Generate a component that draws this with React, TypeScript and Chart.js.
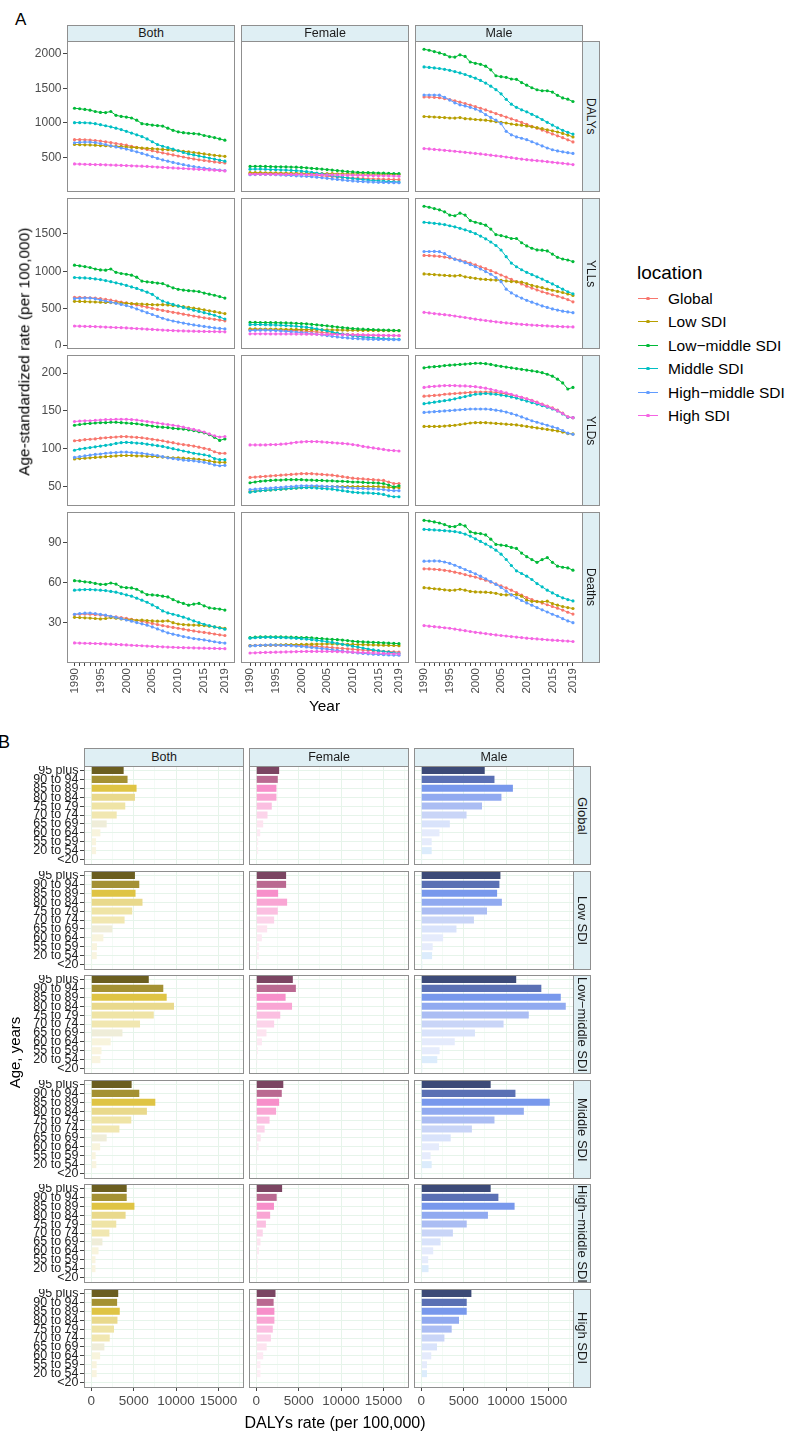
import React, { useEffect, useRef } from 'react';
import { Chart, registerables } from 'chart.js';

Chart.register(...registerables);

const FONT = "'Liberation Sans', Arial, Helvetica, sans-serif";
const NARROW = "'Liberation Sans Narrow', 'Liberation Sans', Arial, sans-serif";

// ---------------- Panel A data ----------------
const YEARS = [1990, 1991, 1992, 1993, 1994, 1995, 1996, 1997, 1998, 1999, 2000, 2001, 2002, 2003, 2004, 2005, 2006, 2007, 2008, 2009, 2010, 2011, 2012, 2013, 2014, 2015, 2016, 2017, 2018, 2019];
const YEAR_LABELS = [1990, 1995, 2000, 2005, 2010, 2015, 2019];
const LOCATIONS = ['Global', 'Low SDI', 'Low\u2212middle SDI', 'Middle SDI', 'High\u2212middle SDI', 'High SDI'];
const LOCATION_COLORS = ['#F8766D', '#B79F00', '#00BA38', '#00BFC4', '#619CFF', '#F564E3'];
const SEXES = ['Both', 'Female', 'Male'];
const MEASURES = ['DALYs', 'YLLs', 'YLDs', 'Deaths'];
const DALYS_TICKS = [500, 1000, 1500, 2000];
const YLLS_TICKS = [0, 500, 1000, 1500];
const YLDS_TICKS = [50, 100, 150, 200];
const DEATHS_TICKS = [30, 60, 90];

// order of series in each panel: Global, Low SDI, Low-middle, Middle, High-middle, High
const DALYS_BOTH = [
  [760, 760, 758, 755, 748, 740, 730, 718, 705, 692, 680, 665, 650, 635, 618, 600, 585, 570, 555, 540, 525, 510, 495, 482, 470, 460, 450, 440, 432, 425],
  [690, 688, 686, 684, 680, 675, 672, 668, 665, 660, 655, 650, 645, 640, 636, 630, 625, 620, 615, 608, 600, 592, 585, 575, 565, 555, 545, 535, 527, 520],
  [1212, 1205, 1195, 1185, 1165, 1152, 1150, 1165, 1110, 1095, 1085, 1072, 1040, 990, 980, 970, 962, 955, 925, 895, 872, 860, 852, 848, 840, 820, 805, 790, 770, 752],
  [1005, 1005, 1003, 1000, 990, 975, 960, 945, 925, 905, 880, 855, 830, 805, 770, 730, 690, 665, 645, 625, 600, 575, 555, 540, 525, 510, 495, 480, 465, 450],
  [715, 722, 725, 725, 718, 705, 690, 672, 655, 640, 625, 605, 585, 562, 540, 515, 490, 468, 450, 432, 415, 400, 385, 372, 360, 350, 340, 330, 322, 315],
  [410, 408, 406, 404, 402, 400, 398, 395, 393, 390, 387, 384, 381, 378, 374, 370, 366, 362, 357, 353, 349, 345, 341, 337, 333, 329, 325, 320, 315, 310],
];
const DALYS_FEMALE = [
  [275, 276, 276, 275, 273, 272, 270, 268, 265, 262, 258, 254, 250, 245, 240, 234, 228, 222, 217, 212, 208, 204, 200, 197, 194, 192, 190, 188, 186, 184],
  [285, 285, 284, 283, 282, 281, 280, 279, 278, 277, 276, 275, 274, 273, 272, 271, 270, 269, 268, 267, 266, 266, 265, 265, 264, 264, 263, 263, 262, 262],
  [375, 376, 376, 374, 372, 370, 370, 368, 366, 364, 360, 355, 348, 342, 336, 330, 322, 315, 308, 300, 295, 290, 287, 285, 283, 280, 278, 275, 272, 270],
  [335, 336, 336, 334, 330, 328, 325, 322, 318, 313, 308, 300, 290, 280, 268, 255, 242, 230, 220, 210, 200, 192, 185, 178, 172, 167, 162, 158, 154, 150],
  [255, 258, 260, 260, 258, 255, 252, 248, 244, 240, 236, 232, 226, 220, 212, 204, 195, 187, 180, 172, 166, 160, 156, 152, 149, 146, 144, 142, 141, 140],
  [262, 262, 262, 262, 261, 261, 261, 260, 260, 259, 259, 258, 257, 256, 255, 254, 253, 252, 250, 249, 248, 246, 245, 243, 242, 240, 239, 238, 236, 235],
];
const DALYS_MALE = [
  [1375, 1373, 1370, 1363, 1352, 1338, 1320, 1300, 1280, 1258, 1235, 1212, 1188, 1162, 1136, 1110, 1085, 1060, 1035, 1008, 980, 952, 925, 898, 870, 843, 815, 788, 758, 728],
  [1093, 1090, 1086, 1082, 1078, 1072, 1070, 1078, 1062, 1058, 1050, 1045, 1040, 1030, 1018, 1010, 1000, 985, 975, 968, 958, 945, 932, 918, 902, 888, 870, 850, 826, 800],
  [2061, 2047, 2028, 2009, 1986, 1953, 1948, 1981, 1958, 1878, 1859, 1845, 1817, 1765, 1680, 1666, 1657, 1633, 1629, 1582, 1544, 1507, 1478, 1464, 1464, 1445, 1398, 1361, 1342, 1309],
  [1807, 1800, 1792, 1784, 1772, 1758, 1740, 1720, 1698, 1672, 1645, 1612, 1575, 1530, 1480, 1420, 1340, 1270, 1225, 1190, 1160, 1125, 1090, 1050, 1010, 970, 930, 895, 865, 840],
  [1403, 1403, 1403, 1400, 1370, 1330, 1290, 1262, 1245, 1225, 1200, 1170, 1120, 1080, 1040, 990, 880, 830, 800, 780, 760, 730, 700, 670, 640, 615, 598, 585, 572, 562],
  [632, 626, 620, 614, 607, 600, 593, 586, 578, 570, 562, 554, 546, 537, 528, 520, 510, 500, 490, 481, 472, 465, 458, 451, 443, 435, 427, 419, 410, 402],
];
const YLLS_BOTH = [
  [650, 650, 648, 645, 640, 632, 622, 612, 600, 588, 575, 562, 548, 533, 518, 503, 488, 475, 462, 450, 438, 425, 413, 400, 388, 376, 366, 356, 345, 336],
  [597, 595, 593, 590, 588, 585, 582, 580, 577, 574, 570, 567, 564, 560, 555, 552, 550, 552, 548, 540, 533, 525, 515, 505, 495, 482, 470, 458, 445, 432],
  [1081, 1073, 1062, 1050, 1030, 1018, 1015, 1030, 985, 970, 960, 948, 920, 868, 858, 850, 842, 835, 805, 778, 758, 748, 740, 735, 728, 708, 692, 678, 660, 640],
  [916, 912, 910, 905, 897, 888, 875, 860, 845, 828, 810, 790, 770, 745, 720, 690, 640, 600, 575, 555, 535, 515, 495, 478, 462, 445, 428, 410, 385, 360],
  [632, 637, 640, 640, 630, 615, 600, 585, 570, 555, 540, 520, 495, 470, 445, 420, 395, 370, 350, 333, 318, 305, 292, 280, 270, 260, 250, 240, 233, 227],
  [266, 264, 262, 260, 258, 255, 252, 249, 246, 243, 240, 236, 232, 228, 224, 220, 216, 212, 208, 205, 202, 200, 198, 196, 195, 193, 192, 191, 190, 188],
];
const YLLS_FEMALE = [
  [218, 218, 217, 216, 215, 213, 211, 209, 207, 204, 200, 196, 191, 186, 180, 174, 168, 163, 158, 154, 150, 147, 145, 143, 141, 140, 139, 138, 137, 136],
  [227, 227, 226, 225, 225, 224, 223, 222, 221, 220, 219, 218, 217, 216, 215, 214, 213, 212, 211, 210, 209, 208, 207, 207, 206, 205, 205, 204, 204, 203],
  [314, 314, 313, 312, 311, 310, 309, 307, 305, 302, 299, 295, 289, 282, 275, 268, 260, 252, 245, 238, 232, 227, 223, 220, 217, 214, 212, 210, 207, 205],
  [284, 285, 285, 283, 281, 279, 276, 272, 268, 263, 257, 250, 240, 228, 215, 200, 185, 170, 158, 146, 136, 128, 120, 113, 107, 102, 97, 93, 90, 87],
  [205, 208, 210, 210, 208, 205, 200, 195, 190, 184, 178, 172, 165, 156, 147, 138, 128, 120, 112, 106, 100, 96, 93, 90, 88, 86, 85, 84, 83, 82],
  [161, 161, 161, 161, 160, 160, 160, 159, 159, 158, 158, 157, 156, 155, 154, 153, 152, 151, 150, 149, 148, 147, 146, 145, 144, 143, 142, 141, 140, 139],
];
const YLLS_MALE = [
  [1212, 1210, 1205, 1200, 1190, 1180, 1165, 1150, 1130, 1108, 1085, 1060, 1035, 1008, 980, 950, 920, 890, 860, 830, 800, 775, 750, 725, 705, 685, 665, 645, 620, 590],
  [964, 960, 955, 950, 945, 940, 937, 945, 925, 915, 905, 895, 890, 885, 882, 878, 870, 862, 858, 855, 835, 810, 795, 780, 760, 745, 730, 715, 695, 676],
  [1871, 1858, 1840, 1823, 1796, 1753, 1744, 1779, 1753, 1679, 1657, 1640, 1618, 1565, 1491, 1478, 1461, 1439, 1439, 1382, 1339, 1308, 1286, 1282, 1273, 1230, 1186, 1164, 1151, 1129],
  [1657, 1650, 1643, 1635, 1625, 1610, 1595, 1575, 1555, 1532, 1505, 1472, 1435, 1392, 1345, 1285, 1195, 1110, 1060, 1020, 985, 955, 925, 895, 862, 830, 795, 760, 725, 698],
  [1265, 1265, 1266, 1262, 1235, 1195, 1160, 1140, 1115, 1090, 1060, 1030, 995, 960, 915, 860, 760, 710, 670, 640, 610, 585, 560, 535, 515, 495, 480, 465, 455, 445],
  [449, 441, 433, 425, 418, 410, 400, 390, 380, 369, 358, 349, 340, 331, 322, 314, 307, 301, 295, 289, 284, 279, 275, 271, 267, 263, 260, 257, 255, 253],
];
const YLDS_BOTH = [
  [110.5, 111, 112, 112.5, 113, 114, 114.5, 115, 115.5, 116, 116, 115.5, 115, 114.5, 113.5, 112.5, 111.5, 110.5, 109, 108, 106.5, 105.5, 104.5, 103.5, 102, 100.5, 99, 96, 94, 94],
  [86.5, 87, 87.5, 88, 88.5, 89, 89.5, 90, 90.5, 91, 91, 91, 90.5, 90.5, 90, 90, 89.5, 89, 88.5, 88, 88, 87.5, 87, 86.5, 86, 85, 84, 82.5, 82, 82],
  [131, 132, 133, 133.5, 134, 134.5, 134.5, 135, 135, 134.5, 134, 133.5, 133, 132, 131, 130, 129, 128.5, 128, 127, 126.5, 126, 125, 124, 122.5, 121, 118.5, 115, 111, 113],
  [98, 99.5, 100.5, 101.5, 102.5, 103.5, 104.5, 105.5, 107, 108, 108.5, 108, 107.5, 107, 106, 105, 104, 103, 101.5, 100, 98.5, 97, 95.5, 94, 93, 92, 90.5, 87, 85.5, 85.5],
  [88.5, 89.5, 90.5, 91.5, 92.5, 93, 94, 94.5, 95, 95.5, 95.5, 95, 94.5, 94, 93, 92, 91, 89.5, 88, 87, 86, 85, 84.5, 84, 83, 82, 80.5, 78.5, 77.5, 78],
  [136, 136.5, 137, 137, 137.5, 138, 138.5, 138.5, 139, 139, 139, 138.5, 138, 137, 136, 135, 134, 133, 132, 131, 130, 128.5, 127, 125.5, 124, 122, 119.5, 117, 115.5, 116],
];
const YLDS_FEMALE = [
  [62, 62.5, 63, 63.5, 64, 64.5, 65, 65.5, 66, 66.5, 67, 67, 67, 66.5, 66, 65.5, 65, 64, 63, 62, 61, 60.5, 60, 59.5, 59, 58.5, 58, 56, 54, 54],
  [43.5, 44, 44.5, 45, 45.5, 46, 46.5, 47, 47.5, 48, 48.5, 49, 49.5, 50, 50, 50, 50, 50, 50, 50, 50, 50, 50, 50, 50, 50, 49.5, 49, 48.5, 48.5],
  [55, 56, 57, 57.5, 58, 58.5, 58.5, 59, 59, 59, 59, 58.5, 58.5, 58, 58, 57.5, 57.5, 57, 57, 56.5, 56, 56, 55.5, 55, 55, 54.5, 54, 52, 49.5, 51],
  [42.5, 43.5, 44.5, 45, 45.5, 46, 46.5, 47, 47.5, 48, 48.5, 48.5, 48.5, 48, 47.5, 47, 46.5, 45.5, 44.5, 43.5, 42.5, 42, 41.5, 41.5, 41, 40.5, 39.5, 37.5, 36.5, 36.5],
  [46, 46.5, 47, 47.5, 48, 48.5, 49, 49.5, 50, 50.5, 51, 51, 51, 51, 50.5, 50, 50, 49.5, 49, 48.5, 48, 47.5, 47.5, 47, 47, 46.5, 46, 45, 44.5, 44.5],
  [105, 105, 105, 105, 105.5, 105.5, 106, 106.5, 107.5, 108.5, 109, 109.5, 109.5, 109.5, 109, 108.5, 108, 107.5, 107, 106.5, 105.5, 104.5, 103, 102, 101, 100, 99, 98, 97.5, 97],
];
const YLDS_MALE = [
  [169.5, 170, 170.5, 171, 172, 172.5, 173, 173.5, 174, 174.5, 175, 175, 175, 175, 174.5, 173.5, 172.5, 171, 169.5, 168, 166, 164, 161.5, 159, 156.5, 154, 151, 147, 142, 141],
  [129.5, 129.5, 129.5, 129.5, 130, 130.5, 131, 132, 133, 134, 134.5, 134.5, 134.5, 134, 133.5, 133, 132.5, 132, 131.5, 130.5, 129.5, 128.5, 127.5, 126.5, 125.5, 124.5, 123.5, 122, 120, 119.5],
  [207, 208, 208.5, 209, 210, 210.5, 211, 211.5, 212, 212.5, 213, 213, 212.5, 211.5, 210, 209, 208, 207, 206, 205, 204, 203, 202, 200.5, 198.5, 196, 192, 187, 179, 181],
  [159.5, 160.5, 161.5, 162.5, 163.5, 164.5, 166, 167.5, 169, 170.5, 172, 172.5, 173, 172.5, 172, 171, 170, 168.5, 167, 165, 163, 161, 159, 157, 155, 152.5, 150, 146, 141.5, 141],
  [148, 148.5, 149, 149.5, 150, 150.5, 151, 151.5, 152, 152.5, 152.5, 152.5, 152.5, 152, 151, 150, 148.5, 146.5, 144.5, 142, 139.5, 137, 135, 133, 131, 129, 127, 124, 120.5, 119],
  [181, 182, 182.5, 183, 183.5, 183.5, 183.5, 183, 183, 182.5, 182, 181, 180, 178.5, 177, 175.5, 174, 172, 170, 168, 166, 163.5, 161, 158.5, 156, 153.5, 150, 146.5, 142, 141],
];
const DEATHS_BOTH = [
  [36.3, 36.5, 36.6, 36.5, 36.2, 35.9, 35.5, 35, 34.5, 34, 33.4, 32.7, 32, 31.2, 30.4, 29.6, 28.8, 28, 27.3, 26.6, 26, 25.3, 24.6, 24, 23.4, 22.9, 22.3, 21.7, 21.1, 20.6],
  [34.2, 34, 33.8, 33.6, 33.3, 33, 33.3, 34, 33.5, 33, 32.5, 32.3, 32, 32.2, 31.8, 31.5, 31.3, 31.3, 31.6, 30.2, 29.2, 28.8, 28.5, 28.4, 28.3, 28, 27.5, 27, 26.5, 26],
  [61.6, 61.3, 60.8, 60.4, 59.6, 58.9, 58.9, 59.9, 59.1, 56.9, 56.4, 56.2, 55.2, 53.2, 51.2, 51, 50.7, 50, 49.5, 47.5, 45.8, 44.6, 43.3, 44.1, 44.6, 42.8, 41.3, 40.8, 40.4, 39.6],
  [54.5, 54.8, 55, 55, 54.8, 54.5, 54.2, 53.6, 53, 52, 51, 50, 48.5, 47, 45.5, 43.5, 41.5, 39, 37.5, 36.5, 35.5, 34.3, 33, 31.5, 30.2, 29, 28, 27, 26.2, 25.3],
  [36.5, 37, 37.3, 37.4, 37, 36.4, 35.8, 35, 34.2, 33.2, 32.2, 31.3, 30.3, 29.3, 28.3, 27, 25.5, 24, 22.6, 21.6, 20.7, 19.8, 19, 18.3, 17.8, 17.3, 16.6, 15.9, 15.3, 14.9],
  [15, 14.9, 14.8, 14.7, 14.6, 14.5, 14.3, 14.1, 13.9, 13.7, 13.5, 13.3, 13.1, 12.9, 12.7, 12.5, 12.3, 12.1, 11.9, 11.8, 11.6, 11.5, 11.4, 11.3, 11.2, 11.1, 11, 10.9, 10.8, 10.7],
];
const DEATHS_FEMALE = [
  [13.1, 13.2, 13.3, 13.3, 13.3, 13.3, 13.3, 13.3, 13.2, 13.1, 13, 12.8, 12.6, 12.4, 12.1, 11.8, 11.5, 11.2, 10.9, 10.6, 10.3, 10, 9.7, 9.5, 9.2, 9, 8.8, 8.6, 8.4, 8.2],
  [13, 13.1, 13.2, 13.3, 13.4, 13.5, 13.6, 13.7, 13.8, 13.8, 13.9, 14, 14.1, 14.2, 14.2, 14.3, 14.3, 14.2, 14.1, 14, 13.9, 13.8, 13.7, 13.6, 13.5, 13.4, 13.3, 13.2, 13.1, 13],
  [19, 19.3, 19.5, 19.6, 19.6, 19.5, 19.5, 19.4, 19.3, 19.2, 19.1, 19, 18.8, 18.5, 18.2, 17.9, 17.7, 17.5, 17.2, 16.8, 16.3, 16, 15.8, 15.6, 15.5, 15.3, 15.1, 14.9, 14.7, 14.5],
  [18.6, 18.9, 19.1, 19.2, 19.2, 19.1, 19, 18.9, 18.7, 18.5, 18.2, 17.9, 17.5, 17, 16.5, 16, 15.4, 14.7, 14, 13.3, 12.6, 11.9, 11.2, 10.5, 9.8, 9.2, 8.6, 8.1, 7.6, 7.2],
  [12.8, 13, 13.2, 13.4, 13.5, 13.4, 13.3, 13.2, 13, 12.7, 12.4, 12, 11.6, 11.2, 10.8, 10.4, 9.9, 9.4, 8.9, 8.4, 7.9, 7.5, 7.2, 6.9, 6.6, 6.4, 6.2, 6, 5.9, 5.8],
  [7.5, 7.6, 7.8, 7.9, 8, 8.1, 8.2, 8.3, 8.4, 8.5, 8.6, 8.7, 8.7, 8.7, 8.7, 8.7, 8.6, 8.5, 8.4, 8.3, 8.1, 8, 7.8, 7.7, 7.5, 7.4, 7.2, 7.1, 6.9, 6.8],
];
const DEATHS_MALE = [
  [70.5, 70.4, 70.2, 69.9, 69.4, 68.8, 68, 67.2, 66.2, 65.2, 64.3, 63.2, 62, 60.6, 59.2, 57.7, 56.2, 54.5, 52.7, 50.8, 49, 47.5, 46.2, 44.9, 43.6, 42.3, 41, 39.6, 38, 36.6],
  [56.4, 56, 55.6, 55.3, 54.8, 54.4, 54.6, 55.2, 54.5, 53.6, 53.2, 53.1, 53, 52.7, 52.2, 51.2, 51, 51.1, 51.3, 50, 47, 46.2, 46, 45.8, 46.3, 44.5, 43.3, 42.3, 41.5, 40.8],
  [106.8, 106.3, 105.6, 104.8, 103.6, 102.1, 102.1, 103.8, 102.6, 98.2, 97.2, 96.9, 95.9, 92.7, 88.8, 88.3, 87.8, 86.5, 85.8, 82.3, 79.6, 77.4, 75.4, 77.4, 78.9, 75.4, 72.5, 71.7, 71.2, 69.5],
  [100.1, 99.8, 99.6, 99.4, 99.1, 98.8, 98.4, 97.7, 96.5, 95, 93, 91, 89, 87, 84.5, 81.5, 77.5, 73, 69, 67, 65, 62.5, 59.5, 57, 54.5, 52.5, 50.5, 48.8, 47.5, 46.5],
  [76.2, 76.3, 76.4, 76.3, 75.6, 74.6, 73.2, 71.6, 70, 68.4, 66.8, 65, 63, 61, 58.8, 56.6, 53.8, 51, 48.8, 46.8, 45, 43.3, 41.5, 39.8, 38.2, 36.5, 35, 33.2, 31.5, 30.2],
  [28, 27.6, 27.2, 26.8, 26.4, 26, 25.4, 24.8, 24.2, 23.6, 23, 22.5, 22, 21.5, 21, 20.6, 20.2, 19.8, 19.4, 19, 18.6, 18.3, 18, 17.7, 17.4, 17.1, 16.9, 16.6, 16.4, 16.1],
];

// ---------------- Panel B data ----------------
const AGE_GROUPS = ['95 plus', '90 to 94', '85 to 89', '80 to 84', '75 to 79', '70 to 74', '65 to 69', '60 to 64', '55 to 59', '20 to 54', '<20'];
const B_REGIONS = ['Global', 'Low SDI', 'Low\u2212middle SDI', 'Middle SDI', 'High\u2212middle SDI', 'High SDI'];
const DALY_RATE_TICKS = [0, 2500, 5000, 7500, 10000, 12500, 15000, 17500];
const BOTH_COLORS = ['#6b5e20', '#a49133', '#dfc444', '#e9d98c', '#efe4a6', '#f1e7b1', '#efedd9', '#f8f4dd', '#f9f4df', '#f9f4e0', '#fbf9f0'];
const FEMALE_COLORS = ['#7b4562', '#ba6991', '#f78fca', '#f9a6d4', '#fbbfe1', '#fcd4ea', '#fde4f0', '#fde9f3', '#feeef6', '#feeff6', '#fff4f9'];
const MALE_COLORS = ['#3c4a77', '#5a70b4', '#7898ec', '#91aaf0', '#abbdf3', '#c9d5f7', '#d9e3fb', '#e5ebfc', '#e6ecfc', '#dcecfc', '#eef4fd'];

const GLOBAL_BOTH = [3820, 4280, 5340, 5150, 4010, 3000, 1820, 1080, 570, 570, 80];
const GLOBAL_FEMALE = [2700, 2540, 2380, 2380, 1830, 1330, 820, 470, 230, 230, 50];
const GLOBAL_MALE = [7480, 8630, 10800, 9450, 7160, 5340, 3370, 2150, 1230, 1230, 120];
const LOW_BOTH = [5150, 5660, 5220, 6040, 4830, 3930, 2490, 1430, 680, 650, 120];
const LOW_FEMALE = [3520, 3520, 2580, 3640, 2540, 2110, 1290, 660, 350, 300, 60];
const LOW_MALE = [9330, 9210, 8940, 9500, 7750, 6210, 4150, 2580, 1350, 1280, 150];
const LOWMID_BOTH = [6780, 8490, 8890, 9750, 7370, 5750, 3680, 2290, 1210, 1080, 100];
const LOWMID_FEMALE = [4310, 4670, 3460, 4220, 2830, 2110, 1210, 670, 220, 130, 40];
const LOWMID_MALE = [11190, 14150, 16440, 17030, 12670, 9700, 6330, 3950, 2160, 1890, 150];
const MIDDLE_BOTH = [4760, 5660, 7550, 6560, 4720, 3320, 1820, 1050, 520, 600, 80];
const MIDDLE_FEMALE = [3190, 3010, 2700, 2340, 1570, 990, 530, 280, 100, 100, 40];
const MIDDLE_MALE = [8180, 11100, 15140, 12090, 8630, 5970, 3470, 2090, 1100, 1230, 120];
const HIGHMID_BOTH = [4180, 4180, 5090, 4050, 2950, 2140, 1320, 860, 500, 500, 60];
const HIGHMID_FEMALE = [3050, 2410, 2090, 1640, 1140, 770, 500, 320, 180, 180, 40];
const HIGHMID_MALE = [8180, 9090, 11000, 7860, 5360, 3730, 2270, 1410, 820, 860, 80];
const HIGH_BOTH = [3180, 3050, 3360, 3090, 2680, 2180, 1550, 1050, 640, 640, 50];
const HIGH_FEMALE = [2270, 2050, 2140, 2140, 1950, 1730, 1230, 820, 500, 500, 40];
const HIGH_MALE = [5910, 5360, 5360, 4450, 3590, 2730, 1860, 1180, 680, 680, 60];

// ---------------- tables built from the arrays ----------------
const LINE_TABLE = [
  [DALYS_BOTH, DALYS_FEMALE, DALYS_MALE],
  [YLLS_BOTH, YLLS_FEMALE, YLLS_MALE],
  [YLDS_BOTH, YLDS_FEMALE, YLDS_MALE],
  [DEATHS_BOTH, DEATHS_FEMALE, DEATHS_MALE],
];
const Y_TICKS = [DALYS_TICKS, YLLS_TICKS, YLDS_TICKS, DEATHS_TICKS];
const BAR_TABLE = [
  [GLOBAL_BOTH, GLOBAL_FEMALE, GLOBAL_MALE],
  [LOW_BOTH, LOW_FEMALE, LOW_MALE],
  [LOWMID_BOTH, LOWMID_FEMALE, LOWMID_MALE],
  [MIDDLE_BOTH, MIDDLE_FEMALE, MIDDLE_MALE],
  [HIGHMID_BOTH, HIGHMID_FEMALE, HIGHMID_MALE],
  [HIGH_BOTH, HIGH_FEMALE, HIGH_MALE],
];
const BAR_COLORS = [BOTH_COLORS, FEMALE_COLORS, MALE_COLORS];

// ---------------- layout ----------------
const A_COL_LEFT = [67, 241, 415];
const A_COL_W = 167;
const A_ROW_TOP = [41, 198, 355, 512];
const A_ROW_H = 150;
const A_YAXIS_W = 67;
const A_XAXIS_H = 40;
const B_COL_LEFT = [84, 249, 414];
const B_COL_W = 159;
const B_ROW_TOP = [766, 871, 975, 1080, 1184, 1289];
const B_ROW_H = 98;
const B_YAXIS_W = 84;
const B_XAXIS_H = 28;
const STRIP_FILL = '#dfeff4';
const BORDER = '#8f8f8f';
const GRID_MAJOR = 'rgb(230,244,234)';
const GRID_MINOR = 'rgb(239,249,242)';

function expand(lists: number[][], includeZero = false): [number, number] {
  let mn = includeZero ? 0 : Infinity;
  let mx = -Infinity;
  lists.forEach((l) => l.forEach((v) => { if (v < mn) mn = v; if (v > mx) mx = v; }));
  const pad = (mx - mn) * 0.05;
  return [mn - pad, mx + pad];
}

const YEAR_PAD = (YEARS[YEARS.length - 1] - YEARS[0]) * 0.05;

function lineConfig(r: number, c: number) {
  const showY = c === 0;
  const showX = r === LINE_TABLE.length - 1;
  const [ymin, ymax] = expand(LINE_TABLE[r].flat());
  const seriesList = LINE_TABLE[r][c];
  return {
    type: 'line',
    data: {
      datasets: seriesList.map((vals: number[], i: number) => ({
        label: LOCATIONS[i],
        data: YEARS.map((yr, j) => ({ x: yr, y: vals[j] })),
        borderColor: LOCATION_COLORS[i],
        backgroundColor: LOCATION_COLORS[i],
        borderWidth: 1,
        pointRadius: 1.6,
        pointBorderWidth: 0,
        pointHoverRadius: 0,
        tension: 0,
        order: LOCATIONS.length - i,
      })),
    },
    options: {
      animation: false,
      responsive: false,
      maintainAspectRatio: false,
      events: [],
      layout: { padding: 0 },
      plugins: { legend: { display: false }, tooltip: { enabled: false } },
      scales: {
        x: {
          type: 'linear',
          min: YEARS[0] - YEAR_PAD,
          max: YEARS[YEARS.length - 1] + YEAR_PAD,
          display: showX,
          afterBuildTicks: (s: any) => { s.ticks = YEARS.map((v) => ({ value: v })); },
          afterFit: (s: any) => { s.height = showX ? A_XAXIS_H : 0; s.paddingLeft = 0; s.paddingRight = 0; },
          grid: { display: true, drawOnChartArea: false, drawTicks: true, tickLength: 4, tickColor: '#444', lineWidth: 1 },
          border: { display: false },
          ticks: {
            autoSkip: false, minRotation: 90, maxRotation: 90, padding: 2,
            color: '#4d4d4d', font: { family: FONT, size: 11.5 },
            callback: (v: number) => (YEAR_LABELS.includes(v) ? String(v) : ''),
          },
        },
        y: {
          type: 'linear',
          min: ymin,
          max: ymax,
          display: showY,
          afterBuildTicks: (s: any) => { s.ticks = Y_TICKS[r].map((v) => ({ value: v })); },
          afterFit: (s: any) => { s.width = showY ? A_YAXIS_W : 0; s.paddingTop = 0; s.paddingBottom = 0; },
          grid: { display: true, drawOnChartArea: false, drawTicks: true, tickLength: 4, tickColor: '#444', lineWidth: 1 },
          border: { display: false },
          ticks: { padding: 1.5, color: '#4d4d4d', font: { family: FONT, size: 12 }, callback: (v: number) => String(v) },
        },
      },
    },
  };
}

const BAR_RANGE = expand(BAR_TABLE.flat(), true);

function barConfig(r: number, c: number) {
  const showY = c === 0;
  const showX = r === BAR_TABLE.length - 1;
  const isMajor = (ctx: any) => ctx.tick && ctx.tick.value % 5000 === 0;
  return {
    type: 'bar',
    data: {
      labels: AGE_GROUPS,
      datasets: [{
        data: BAR_TABLE[r][c],
        backgroundColor: BAR_COLORS[c],
        borderWidth: 0,
        barPercentage: 0.86,
        categoryPercentage: 0.92,
      }],
    },
    options: {
      indexAxis: 'y',
      animation: false,
      responsive: false,
      maintainAspectRatio: false,
      events: [],
      layout: { padding: 0 },
      plugins: { legend: { display: false }, tooltip: { enabled: false } },
      scales: {
        x: {
          type: 'linear',
          min: BAR_RANGE[0],
          max: BAR_RANGE[1],
          display: true,
          afterBuildTicks: (s: any) => { s.ticks = DALY_RATE_TICKS.map((v) => ({ value: v })); },
          afterFit: (s: any) => { s.height = showX ? B_XAXIS_H : 0; s.paddingLeft = 0; s.paddingRight = 0; },
          grid: {
            display: true, drawOnChartArea: true, drawTicks: showX, tickLength: 4,
            color: (ctx: any) => (isMajor(ctx) ? GRID_MAJOR : GRID_MINOR),
            lineWidth: (ctx: any) => (isMajor(ctx) ? 1 : 0.7),
            tickColor: (ctx: any) => (isMajor(ctx) ? '#444' : 'rgba(0,0,0,0)'),
            tickWidth: 1,
          },
          border: { display: false },
          ticks: {
            display: showX, autoSkip: false, maxRotation: 0, minRotation: 0, padding: 2,
            color: '#4d4d4d', font: { family: FONT, size: 13.5 },
            callback: (v: number) => (v % 5000 === 0 ? String(v) : ''),
          },
        },
        y: {
          type: 'category',
          display: true,
          offset: true,
          afterFit: (s: any) => { s.width = showY ? B_YAXIS_W : 0; s.paddingTop = 0; s.paddingBottom = 0; },
          grid: { display: true, drawOnChartArea: true, offset: false, drawTicks: showY, tickLength: 4, color: GRID_MAJOR, tickColor: '#444', lineWidth: 1 },
          border: { display: false },
          ticks: { display: showY, autoSkip: false, padding: 1.5, color: '#222', font: { family: NARROW, size: 12.5, lineHeight: 1 } },
        },
      },
    },
  };
}

type Panel = { left: number; top: number; width: number; height: number; config: any; plot: [number, number, number, number] };

function buildPanels(): Panel[] {
  const out: Panel[] = [];
  for (let r = 0; r < LINE_TABLE.length; r++) {
    for (let c = 0; c < SEXES.length; c++) {
      const showY = c === 0;
      const showX = r === LINE_TABLE.length - 1;
      out.push({
        left: A_COL_LEFT[c] - (showY ? A_YAXIS_W : 0),
        top: A_ROW_TOP[r],
        width: A_COL_W + (showY ? A_YAXIS_W : 0),
        height: A_ROW_H + (showX ? A_XAXIS_H : 0),
        config: lineConfig(r, c),
        plot: [A_COL_LEFT[c], A_ROW_TOP[r], A_COL_W, A_ROW_H],
      });
    }
  }
  for (let r = 0; r < BAR_TABLE.length; r++) {
    for (let c = 0; c < SEXES.length; c++) {
      const showY = c === 0;
      const showX = r === BAR_TABLE.length - 1;
      out.push({
        left: B_COL_LEFT[c] - (showY ? B_YAXIS_W : 0),
        top: B_ROW_TOP[r],
        width: B_COL_W + (showY ? B_YAXIS_W : 0),
        height: B_ROW_H + (showX ? B_XAXIS_H : 0),
        config: barConfig(r, c),
        plot: [B_COL_LEFT[c], B_ROW_TOP[r], B_COL_W, B_ROW_H],
      });
    }
  }
  return out;
}

const PANELS = buildPanels();

function Text(props: { x: number; y: number; size: number; children: any; color?: string; align?: 'left' | 'center'; rotate?: boolean }) {
  const { x, y, size, children, color = '#000', align = 'left', rotate = false } = props;
  const style: any = {
    position: 'absolute', top: y - size / 2, left: x, fontFamily: FONT, fontSize: size,
    lineHeight: `${size}px`, height: size, whiteSpace: 'nowrap', color,
  };
  if (align === 'center' || rotate) {
    style.transform = rotate ? 'translateX(-50%) rotate(-90deg)' : 'translateX(-50%)';
  }
  return <div style={style}>{children}</div>;
}

function Strip(props: { x: number; y: number; w: number; h: number; label: string; size: number; vertical?: boolean }) {
  const { x, y, w, h, label, size, vertical } = props;
  return (
    <div style={{
      position: 'absolute', left: x, top: y, width: w, height: h, boxSizing: 'border-box',
      background: STRIP_FILL, border: `1px solid ${BORDER}`, display: 'flex', alignItems: 'center',
      justifyContent: 'center', fontFamily: FONT, fontSize: size, color: '#1a1a1a', whiteSpace: 'nowrap',
      overflow: 'hidden', zIndex: 2,
    }}>
      <span style={vertical ? { writingMode: 'vertical-rl', lineHeight: `${size}px` } : { lineHeight: `${size}px` }}>{label}</span>
    </div>
  );
}

export default function App() {
  const refs = useRef<(HTMLCanvasElement | null)[]>([]);

  useEffect(() => {
    const charts = PANELS.map((p, i) => new Chart(refs.current[i] as HTMLCanvasElement, p.config));
    return () => { charts.forEach((ch) => ch.destroy()); };
  }, []);

  const aRight = A_COL_LEFT[2] + A_COL_W;
  const bRight = B_COL_LEFT[2] + B_COL_W;

  return (
    <div style={{ position: 'absolute', left: 0, top: 0, width: 788, height: 1435, background: '#fff', overflow: 'hidden', fontFamily: FONT }}>
      {PANELS.map((p, i) => (
        <canvas
          key={'c' + i}
          ref={(el) => { refs.current[i] = el; }}
          width={p.width}
          height={p.height}
          style={{ position: 'absolute', left: p.left, top: p.top, width: p.width, height: p.height }}
        />
      ))}
      {PANELS.map((p, i) => (
        <div key={'b' + i} style={{
          position: 'absolute', left: p.plot[0], top: p.plot[1], width: p.plot[2] + 1, height: p.plot[3] + 1,
          boxSizing: 'border-box', border: `1px solid ${BORDER}`, pointerEvents: 'none', zIndex: 1,
        }} />
      ))}

      {/* Panel A labels */}
      <div style={{ position: 'absolute', left: 15, top: 10.5, fontFamily: FONT, fontSize: 17, lineHeight: '17px' }}>A</div>
      {SEXES.map((s, c) => (
        <Strip key={'as' + c} x={A_COL_LEFT[c]} y={25} w={A_COL_W + 1} h={17} label={s} size={12.5} />
      ))}
      {MEASURES.map((m, r) => (
        <Strip key={'am' + r} x={aRight} y={A_ROW_TOP[r]} w={18} h={A_ROW_H + 1} label={m} size={12} vertical />
      ))}
      <Text x={24} y={351.5} size={15.4} rotate>Age-standardized rate (per 100,000)</Text>
      <Text x={324.5} y={706} size={15.4} align="center">Year</Text>

      {/* Legend */}
      <Text x={637} y={272.5} size={19}>location</Text>
      {LOCATIONS.map((loc, i) => {
        const cy = 298.3 + i * 23.5;
        return (
          <React.Fragment key={'lg' + i}>
            <div style={{ position: 'absolute', left: 638, top: cy - 0.5, width: 20, height: 1, background: LOCATION_COLORS[i] }} />
            <div style={{ position: 'absolute', left: 646.4, top: cy - 1.6, width: 3.2, height: 3.2, borderRadius: '50%', background: LOCATION_COLORS[i] }} />
            <Text x={668} y={cy} size={15.5}>{loc}</Text>
          </React.Fragment>
        );
      })}

      {/* Panel B labels */}
      <div style={{ position: 'absolute', left: -2, top: 732.5, fontFamily: FONT, fontSize: 18, lineHeight: '18px' }}>B</div>
      {SEXES.map((s, c) => (
        <Strip key={'bs' + c} x={B_COL_LEFT[c]} y={748} w={B_COL_W + 1} h={19} label={s} size={12.5} />
      ))}
      {B_REGIONS.map((m, r) => (
        <Strip key={'bm' + r} x={bRight} y={B_ROW_TOP[r]} w={18} h={B_ROW_H + 1} label={m} size={13} vertical />
      ))}
      <Text x={14} y={1052} size={15} rotate>Age, years</Text>
      <Text x={335} y={1423} size={16} align="center">DALYs rate (per 100,000)</Text>
    </div>
  );
}
